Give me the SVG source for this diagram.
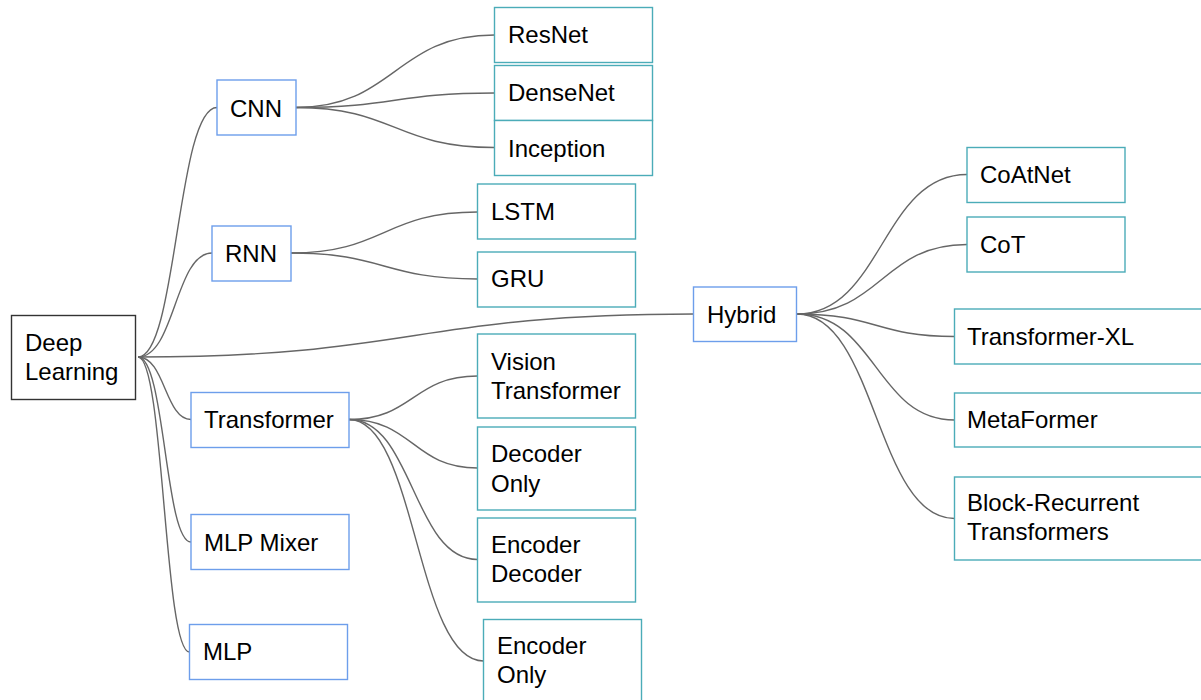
<svg xmlns="http://www.w3.org/2000/svg" width="1201" height="700" viewBox="0 0 1201 700">
  <style>
    .box { fill: #ffffff; stroke-width: 1.4; }
    .root { stroke: #333333; }
    .lvl1 { stroke: #6d9eeb; }
    .lvl2 { stroke: #4bacb8; }
    .label { font-family: "Liberation Sans", Arial, sans-serif; font-size: 24px; fill: #000000; }
    .link { fill: none; stroke: #666666; stroke-width: 1.4; }
  </style>
  <rect width="1201" height="700" fill="#ffffff"/>

  <!-- connectors -->
  <g id="connectors">
    <!-- root to level 1 -->
    <path class="link" d="M138,357 C177,357 177,107.5 217,107.5"/>
    <path class="link" d="M138,357 C175,357 175,253 212,253"/>
    <path class="link" d="M138,357 C165,357 165,419.5 191,419.5"/>
    <path class="link" d="M138,357 C165,357 165,542 191,542"/>
    <path class="link" d="M138,357 C164,357 164,652 189.5,652"/>
    <path class="link" d="M138,357 C415,357 415,314 693.5,314"/>
    <!-- CNN -->
    <path class="link" d="M296,107.5 C395,107.5 395,35 494.5,35"/>
    <path class="link" d="M296,107.5 C395,107.5 395,93 494.5,93"/>
    <path class="link" d="M296,107.5 C395,107.5 395,147.5 494.5,147.5"/>
    <!-- RNN -->
    <path class="link" d="M291,253 C384,253 384,212 477.5,212"/>
    <path class="link" d="M291,253 C384,253 384,279 477.5,279"/>
    <!-- Transformer -->
    <path class="link" d="M349,419.5 C413,419.5 413,376 477.5,376"/>
    <path class="link" d="M349,419.5 C413,419.5 413,468 477.5,468"/>
    <path class="link" d="M349,419.5 C413,419.5 413,559.5 477.5,559.5"/>
    <path class="link" d="M349,419.5 C416,419.5 416,661 483.5,661"/>
    <!-- Hybrid -->
    <path class="link" d="M797,314 C882,314 882,174.5 967,174.5"/>
    <path class="link" d="M797,314 C882,314 882,244.5 967,244.5"/>
    <path class="link" d="M797,314 C876,314 876,336.5 954.5,336.5"/>
    <path class="link" d="M797,314 C876,314 876,420 954.5,420"/>
    <path class="link" d="M797,314 C876,314 876,518.5 954.5,518.5"/>
  </g>

  <!-- root -->
  <g id="deep-learning">
    <rect class="box root" x="11.5" y="315.5" width="124" height="84"/>
    <text class="label" x="25" y="351">Deep</text>
    <text class="label" x="25" y="380">Learning</text>
  </g>

  <!-- level 1 -->
  <g id="cnn">
    <rect class="box lvl1" x="217" y="80" width="79" height="55"/>
    <text class="label" x="230" y="117">CNN</text>
  </g>
  <g id="rnn">
    <rect class="box lvl1" x="212" y="226" width="79" height="55"/>
    <text class="label" x="225" y="262">RNN</text>
  </g>
  <g id="transformer">
    <rect class="box lvl1" x="191" y="392.5" width="158" height="55"/>
    <text class="label" x="204" y="428">Transformer</text>
  </g>
  <g id="mlp-mixer">
    <rect class="box lvl1" x="191" y="514.5" width="158" height="55"/>
    <text class="label" x="204" y="551">MLP Mixer</text>
  </g>
  <g id="mlp">
    <rect class="box lvl1" x="189.5" y="624.5" width="158" height="55"/>
    <text class="label" x="203" y="660">MLP</text>
  </g>
  <g id="hybrid">
    <rect class="box lvl1" x="693.5" y="287" width="103" height="54.5"/>
    <text class="label" x="707" y="323">Hybrid</text>
  </g>

  <!-- level 2: CNN -->
  <g id="resnet">
    <rect class="box lvl2" x="494.5" y="7.5" width="158" height="55"/>
    <text class="label" x="508" y="43">ResNet</text>
  </g>
  <g id="densenet">
    <rect class="box lvl2" x="494.5" y="65.5" width="158" height="55"/>
    <text class="label" x="508" y="101">DenseNet</text>
  </g>
  <g id="inception">
    <rect class="box lvl2" x="494.5" y="120.5" width="158" height="55"/>
    <text class="label" x="508" y="157">Inception</text>
  </g>

  <!-- level 2: RNN -->
  <g id="lstm">
    <rect class="box lvl2" x="477.5" y="184" width="158" height="55"/>
    <text class="label" x="491" y="220">LSTM</text>
  </g>
  <g id="gru">
    <rect class="box lvl2" x="477.5" y="252" width="158" height="55"/>
    <text class="label" x="491" y="287">GRU</text>
  </g>

  <!-- level 2: Transformer -->
  <g id="vision-transformer">
    <rect class="box lvl2" x="477.5" y="334" width="158" height="84"/>
    <text class="label" x="491" y="370">Vision</text>
    <text class="label" x="491" y="399">Transformer</text>
  </g>
  <g id="decoder-only">
    <rect class="box lvl2" x="477.5" y="427" width="158" height="83"/>
    <text class="label" x="491" y="462">Decoder</text>
    <text class="label" x="491" y="492">Only</text>
  </g>
  <g id="encoder-decoder">
    <rect class="box lvl2" x="477.5" y="518" width="158" height="84"/>
    <text class="label" x="491" y="553">Encoder</text>
    <text class="label" x="491" y="582">Decoder</text>
  </g>
  <g id="encoder-only">
    <rect class="box lvl2" x="483.5" y="619.5" width="158" height="84"/>
    <text class="label" x="497" y="654">Encoder</text>
    <text class="label" x="497" y="683">Only</text>
  </g>

  <!-- level 2: Hybrid -->
  <g id="coatnet">
    <rect class="box lvl2" x="967" y="147.5" width="158" height="55"/>
    <text class="label" x="980" y="183">CoAtNet</text>
  </g>
  <g id="cot">
    <rect class="box lvl2" x="967" y="217" width="158" height="55"/>
    <text class="label" x="980" y="253">CoT</text>
  </g>
  <g id="transformer-xl">
    <rect class="box lvl2" x="954.5" y="309" width="260" height="55"/>
    <text class="label" x="967" y="345">Transformer-XL</text>
  </g>
  <g id="metaformer">
    <rect class="box lvl2" x="954.5" y="393" width="260" height="54"/>
    <text class="label" x="967" y="428">MetaFormer</text>
  </g>
  <g id="block-recurrent-transformers">
    <rect class="box lvl2" x="954.5" y="477" width="260" height="83"/>
    <text class="label" x="967" y="511">Block-Recurrent</text>
    <text class="label" x="967" y="540">Transformers</text>
  </g>
</svg>
